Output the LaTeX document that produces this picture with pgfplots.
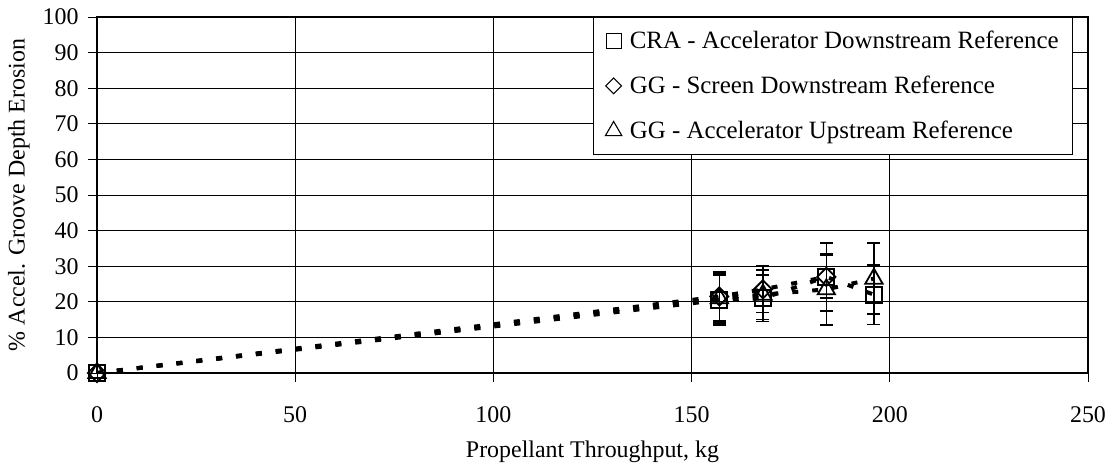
\documentclass[border=0pt]{standalone}
\usepackage{fontspec}
\setmainfont{Liberation Serif}
\usepackage{pgfplots}
\pgfplotsset{compat=1.18}

\begin{document}
\begin{tikzpicture}
\begin{axis}[
    scale only axis,
    width=991bp, height=356bp,
    xmin=0, xmax=250,
    ymin=0, ymax=100,
    xtick={0,50,100,150,200,250},
    ytick={0,10,20,30,40,50,60,70,80,90,100},
    /pgf/number format/assume math mode=true,
    ticklabel style={font=\fontsize{24}{27}\selectfont},
    tick align=outside,
    major tick length=9bp,
    tick style={black, line width=0.9bp},
    xtick pos=bottom, ytick pos=left,
    axis line style={black, line width=1.2bp},
    grid=major,
    grid style={black, line width=0.8bp},
    x tick label style={anchor=base, yshift=-40bp},
    y tick label style={anchor=east, xshift=-6bp},
    xlabel={Propellant Throughput, kg},
    ylabel={\% Accel. Groove Depth Erosion},
    label style={font=\fontsize{24}{28}\selectfont},
    xlabel style={at={([yshift=-84bp]axis description cs:0.5,0)}, anchor=base},
    ylabel style={at={([xshift=-78bp]axis description cs:0,0.5)}, anchor=center},
    legend style={at={(rel axis cs:0.5005,1)}, anchor=north west,
        draw=black, line width=0.8bp, fill=white,
        font=\fontsize{25}{29}\selectfont,
        inner xsep=12bp, inner ysep=12bp, row sep=22bp,
        /tikz/every odd column/.style={column sep=6bp}},
    legend cell align=left,
    every axis plot/.append style={
        black, line width=4bp, dash pattern=on 6bp off 14bp,
        mark options={solid, line width=1.8bp, fill=none},
        error bars/y dir=both, error bars/y explicit,
        error bars/error bar style={solid, line width=1.7bp, black},
        error bars/error mark options={rotate=90, mark size=6.5bp, line width=1.7bp, black, solid}
    },
]
% legend entries (marker only)
\addlegendimage{only marks, mark=square, mark size=7.5bp, mark options={solid, line width=1.1bp}}
\addlegendentry{CRA - Accelerator Downstream Reference}
\addlegendimage{only marks, mark=square, mark size=5.6bp, mark options={solid, rotate=45, line width=1.1bp}}
\addlegendentry{GG - Screen Downstream Reference}
\addlegendimage{only marks, mark=triangle, mark size=9.5bp, mark options={solid, line width=1.1bp}}
\addlegendentry{GG - Accelerator Upstream Reference}

% CRA - Accelerator Downstream Reference
\addplot[forget plot, mark=square, mark size=8bp] coordinates {
    (0,0) +- (0,0)
    (157,20.5) +- (0,7.0)
    (168,21.0) +- (0,6.5)
    (184,27.0) +- (0,9.6)
    (196,22.0) +- (0,8.4)
};
% GG - Screen Downstream Reference
\addplot[forget plot, mark=square, mark size=6.4bp,
    mark options={solid, rotate=45, line width=1.8bp, fill=none}] coordinates {
    (0,0) +- (0,0)
    (157,21.5) +- (0,6.8)
    (168,23.5) +- (0,6.5)
    (184,27.0) +- (0,6.0)
};
% GG - Accelerator Upstream Reference
\addplot[forget plot, mark=triangle, mark size=10bp] coordinates {
    (0,0) +- (0,0)
    (157,21.0) +- (0,7.0)
    (168,22.0) +- (0,7.0)
    (184,23.5) +- (0,10.0)
    (196,26.5) +- (0,10.0)
};
\coordinate (sw) at (rel axis cs:0,0);
\coordinate (ne) at (rel axis cs:1,1);
\end{axis}
\path ([shift={(-97bp,-93bp)}]sw) rectangle ([shift={(28bp,17bp)}]ne);
\end{tikzpicture}
\end{document}
